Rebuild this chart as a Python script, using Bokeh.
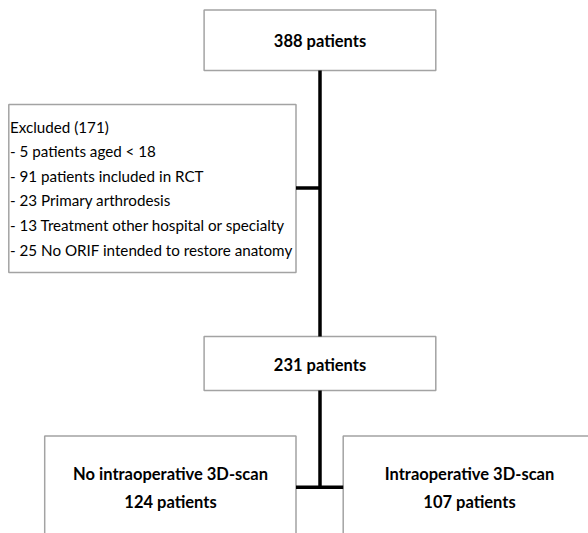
from bokeh.plotting import figure
from bokeh.models import Range1d, ColumnDataSource
from bokeh.core.properties import value
from bokeh.embed import file_html
from bokeh.resources import INLINE

# ---- data ----
stage_counts = [388, 231]
excluded_total = 171
exclusion_counts = [5, 91, 23, 13, 25]
exclusion_reasons = ["patients aged < 18", "patients included in RCT", "Primary arthrodesis",
                     "Treatment other hospital or specialty", "No ORIF intended to restore anatomy"]
group_names = ["No intraoperative 3D-scan", "Intraoperative 3D-scan"]
group_counts = [124, 107]

# ---- layout (reference pixel coordinates) ----
W, H = 588, 533
OX, OY = 0, 0
p = figure(width=W, height=H, output_backend="svg", toolbar_location=None,
           x_range=Range1d(OX, OX + W), y_range=Range1d(OY + H, OY),
           x_axis_location=None, y_axis_location=None, min_border=0,
           background_fill_color="white", border_fill_color="white")
p.grid.visible = False
p.outline_line_color = None

FONT = value("Lato")
BORDER = "#a3a3a3"

# boxes: stage1, excluded, stage2, group left, group right
box_l = [203.6, 8.3, 203.6, 44.2, 342.7]
box_r = [435.3, 295.5, 435.3, 295.5, 620]
box_t = [9.5, 104, 336, 435.5, 435.5]
box_b = [70, 272, 390, 570, 570]
p.quad(left=box_l, right=box_r, top=box_t, bottom=box_b,
       fill_color="white", line_color=BORDER, line_width=1.5)

# connectors
cx = 319.5
p.segment(x0=[cx, 295.5, cx, 295.5], y0=[70, 187.5, 390, 486.7],
          x1=[cx, cx, cx, 342.7], y1=[336, 187.5, 486.7, 486.7],
          line_color="black", line_width=3.5)

# stage texts
stage_src = ColumnDataSource(dict(x=[cx, cx], y=[40, 364],
                                  t=[f"{n} patients" for n in stage_counts]))
p.text(x="x", y="y", text="t", source=stage_src, text_font=FONT, text_font_style="bold",
       text_font_size="16.5px", text_align="center", text_baseline="middle", text_color="black")

# exclusion texts
ex_lines = [f"Excluded ({excluded_total})"] + [f"- {n} {r}" for n, r in zip(exclusion_counts, exclusion_reasons)]
ex_y = [126, 150.5, 175, 199.5, 224.5, 249]
ex_src = ColumnDataSource(dict(x=[9.5] * len(ex_lines), y=ex_y, t=ex_lines))
p.text(x="x", y="y", text="t", source=ex_src, text_font=FONT,
       text_font_size="15.2px", text_align="left", text_baseline="middle", text_color="black")

# group texts
gx = [170, 469]
g_src = ColumnDataSource(dict(x=gx + gx, y=[473, 473, 501, 501],
                              t=group_names + [f"{n} patients" for n in group_counts]))
p.text(x="x", y="y", text="t", source=g_src, text_font=FONT, text_font_style="bold",
       text_font_size="16.5px", text_align="center", text_baseline="middle", text_color="black")

open("out.html", "w").write(file_html(p, INLINE))
